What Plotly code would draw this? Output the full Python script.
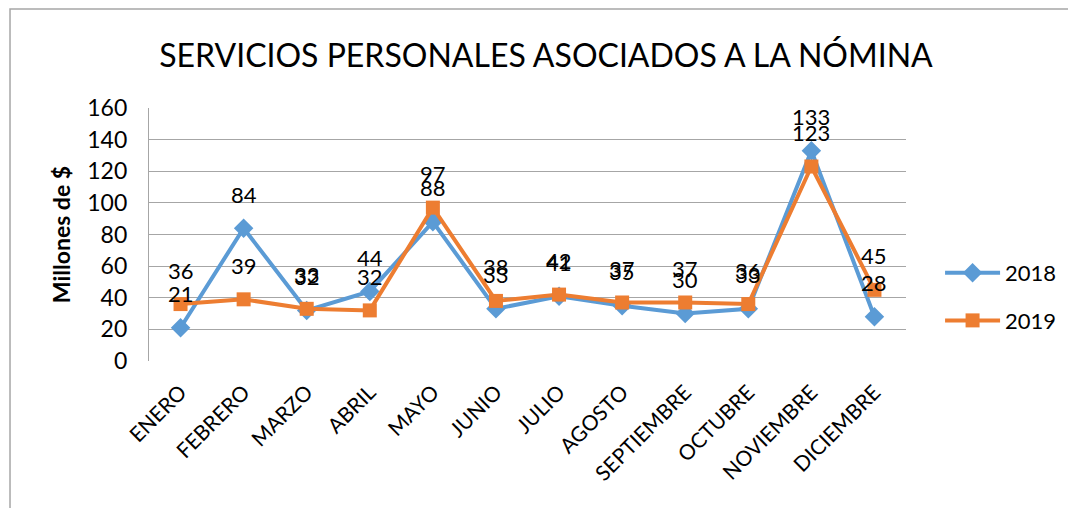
import plotly.graph_objects as go

months = ["ENERO", "FEBRERO", "MARZO", "ABRIL", "MAYO", "JUNIO", "JULIO",
          "AGOSTO", "SEPTIEMBRE", "OCTUBRE", "NOVIEMBRE", "DICIEMBRE"]
v2018 = [21, 84, 32, 44, 88, 33, 41, 35, 30, 33, 133, 28]
v2019 = [36, 39, 33, 32, 97, 38, 42, 37, 37, 36, 123, 45]
y_ticks = [0, 20, 40, 60, 80, 100, 120, 140, 160]

BLUE = "#5B9BD5"
ORANGE = "#ED7D31"
FONT = "Lato"

fig = go.Figure()
fig.add_trace(go.Scatter(x=months, y=v2018, name="2018", mode="lines+markers",
                         line=dict(color=BLUE, width=4),
                         marker=dict(symbol="diamond", size=15, color=BLUE),
                         legendgroup="a"))
fig.add_trace(go.Scatter(x=months, y=v2019, name="2019", mode="lines+markers",
                         line=dict(color=ORANGE, width=4),
                         marker=dict(symbol="square", size=14, color=ORANGE),
                         legendgroup="b"))

for vals in (v2018, v2019):
    for m, v in zip(months, vals):
        fig.add_annotation(x=m, y=v, text=str(v), showarrow=False, yshift=34,
                           font=dict(family=FONT, size=22, color="black"))

# outer chart frame (page body has an 8px offset)
fig.add_shape(type="rect", xref="paper", yref="paper",
              x0=-0.1836, x1=1.5, y0=-1.0, y1=1.391,
              line=dict(color="#A6A6A6", width=1.5), fillcolor="rgba(0,0,0,0)",
              layer="below")

fig.update_layout(
    width=1076, height=508,
    margin=dict(l=141, r=178, t=100, b=155),
    paper_bgcolor="white", plot_bgcolor="white",
    font=dict(family=FONT, color="black"),
    title=dict(text="SERVICIOS PERSONALES ASOCIADOS A LA NÓMINA",
               x=0.5, xanchor="center", y=0.906, yanchor="middle",
               font=dict(family=FONT, size=32, color="black")),
    showlegend=True,
    legend=dict(x=1.045, y=0.253, xanchor="left", yanchor="middle",
                font=dict(family=FONT, size=22), tracegroupgap=16,
                itemwidth=55, traceorder="grouped", bgcolor="rgba(0,0,0,0)"),
    xaxis=dict(type="category", range=[-0.5, 11.5], tickangle=-45, showgrid=False,
               tickfont=dict(family=FONT, size=21), ticks="",
               showline=False, zeroline=False, ticklabelstandoff=14),
    yaxis=dict(range=[0, 160], tickvals=y_ticks, showgrid=True,
               gridcolor="#A6A6A6", gridwidth=1.3,
               tickfont=dict(family=FONT, size=23), ticks="",
               showline=True, linecolor="#A6A6A6", linewidth=1.3,
               zeroline=False, ticklabelstandoff=16,
               title=dict(text="<b>Millones de $</b>", standoff=10,
                          font=dict(family=FONT, size=23))),
)

fig.write_html("out.html")
